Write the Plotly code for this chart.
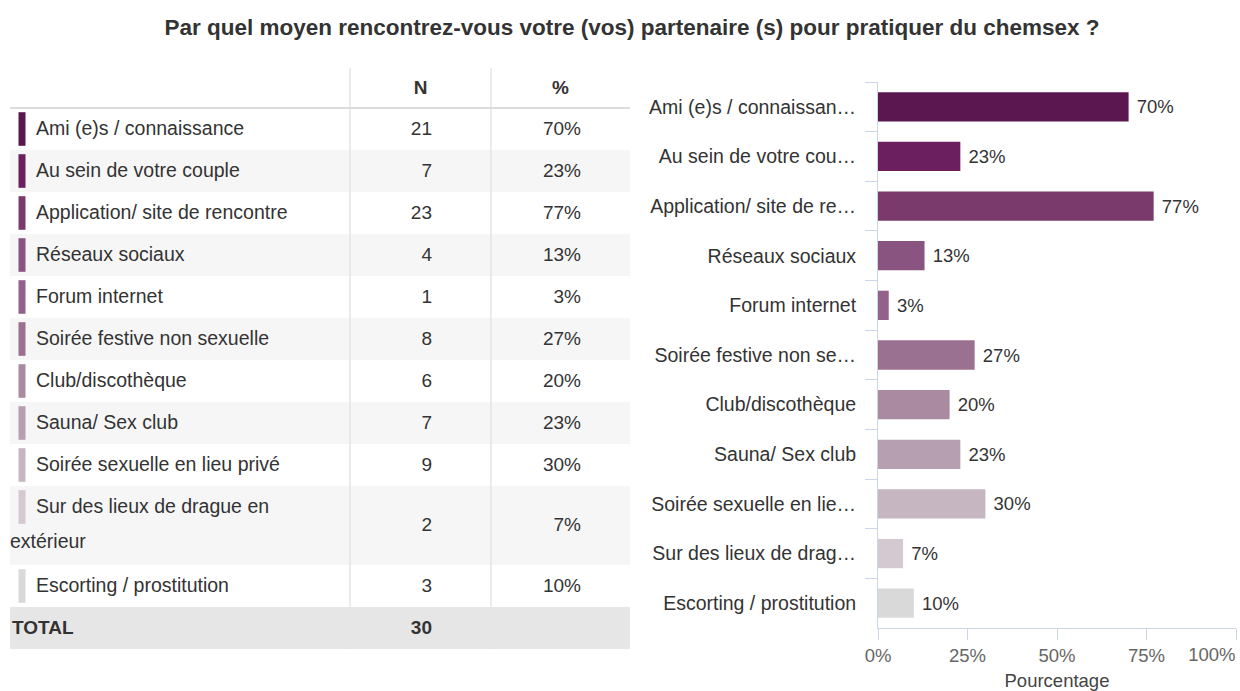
import plotly.graph_objects as go

W, H = 1240, 691
FONT = "Liberation Sans, Arial, sans-serif"

# Data
title = "Par quel moyen rencontrez-vous votre (vos) partenaire (s) pour pratiquer du chemsex ?"

categories = [
    "Ami (e)s / connaissance",
    "Au sein de votre couple",
    "Application/ site de rencontre",
    "Réseaux sociaux",
    "Forum internet",
    "Soirée festive non sexuelle",
    "Club/discothèque",
    "Sauna/ Sex club",
    "Soirée sexuelle en lieu privé",
    "Sur des lieux de drague en extérieur",
    "Escorting / prostitution",
]
# labels as truncated on the bar chart axis
short_labels = [
    "Ami (e)s / connaissan…",
    "Au sein de votre cou…",
    "Application/ site de re…",
    "Réseaux sociaux",
    "Forum internet",
    "Soirée festive non se…",
    "Club/discothèque",
    "Sauna/ Sex club",
    "Soirée sexuelle en lie…",
    "Sur des lieux de drag…",
    "Escorting / prostitution",
]
counts = [21, 7, 23, 4, 1, 8, 6, 7, 9, 2, 3]
percents = [70, 23, 77, 13, 3, 27, 20, 23, 30, 7, 10]
total = 30
header = ["", "N", "%"]
x_ticks = [0, 25, 50, 75, 100]

colors = [
    "#5b1850", "#6c1f5e", "#7a3b6c", "#895480", "#93628a", "#9a7191",
    "#a98aa1", "#b59fb0", "#c6b6c2", "#d4c8d1", "#d9d9d9",
]

# how long labels wrap inside the table
wrapped = {"Sur des lieux de drague en extérieur": ["Sur des lieux de drague en", "extérieur"]}


def px_x(v):
    return v / W


def px_y(v):
    return 1 - v / H


fig = go.Figure()

# ---------------- table (left) on its own axes, units = pixels ----------------
TW = 620                      # table width
HEAD_H, ROW_H, EXTRA_LINE = 40, 42, 37
COL1, COL2 = 340, 481         # column separators
N_RIGHT, P_RIGHT = 422, 571   # right edge of numbers
TXT_DY = 1                    # small nudge so text sits in the middle of the row

lines = [wrapped.get(c, [c]) for c in categories]
heights = [HEAD_H] + [ROW_H + EXTRA_LINE * (len(l) - 1) for l in lines] + [ROW_H]
tops = [sum(heights[:i]) for i in range(len(heights))]
TH = sum(heights)
centers = [t + h / 2 for t, h in zip(tops, heights)]
fills = ["white"] + ["white" if i % 2 == 0 else "#f6f6f6" for i in range(len(categories))] + ["#e6e6e6"]

fig.add_trace(go.Bar(
    x=[TW] * len(heights), y=centers, width=heights, base=0, orientation="h",
    marker=dict(color=fills, line_width=0), xaxis="x2", yaxis="y2",
    hoverinfo="skip", showlegend=False,
))

# separators
fig.add_trace(go.Scatter(
    x=[COL1, COL1, None, COL2, COL2], y=[0, TH, None, 0, TH],
    mode="lines", line=dict(color="#e4e4e4", width=1.5),
    xaxis="x2", yaxis="y2", hoverinfo="skip", showlegend=False,
))
fig.add_trace(go.Scatter(
    x=[0, TW], y=[HEAD_H, HEAD_H], mode="lines", line=dict(color="#dcdcdc", width=2),
    xaxis="x2", yaxis="y2", hoverinfo="skip", showlegend=False,
))

row_tops = tops[1:-1]
first_line_y = [t + ROW_H / 2 for t in row_tops]

# colour swatches
fig.add_trace(go.Scatter(
    x=[12] * len(categories), y=first_line_y, mode="markers",
    marker=dict(symbol="line-ns", size=24, line=dict(width=7, color=colors)),
    xaxis="x2", yaxis="y2", hoverinfo="skip", showlegend=False,
))

# labels
lab_x, lab_y, lab_t = [], [], []
for t, l in zip(row_tops, lines):
    for k, s in enumerate(l):
        lab_x.append(26 if k == 0 else 0)
        lab_y.append(t + ROW_H / 2 + TXT_DY + (EXTRA_LINE - 2) * k)
        lab_t.append(s)
fig.add_trace(go.Scatter(
    x=lab_x, y=lab_y, text=lab_t, mode="text", textposition="middle right",
    textfont=dict(family=FONT, size=19.5, color="#333333"),
    xaxis="x2", yaxis="y2", hoverinfo="skip", showlegend=False, cliponaxis=False,
))

row_mid = [c + TXT_DY for c in centers[1:-1]]
fig.add_trace(go.Scatter(
    x=[N_RIGHT] * len(counts), y=row_mid, text=[str(c) for c in counts],
    mode="text", textposition="middle left",
    textfont=dict(family=FONT, size=19, color="#333333"),
    xaxis="x2", yaxis="y2", hoverinfo="skip", showlegend=False, cliponaxis=False,
))
fig.add_trace(go.Scatter(
    x=[P_RIGHT] * len(percents), y=row_mid, text=[f"{p}%" for p in percents],
    mode="text", textposition="middle left",
    textfont=dict(family=FONT, size=19, color="#333333"),
    xaxis="x2", yaxis="y2", hoverinfo="skip", showlegend=False, cliponaxis=False,
))

# header and total row (bold)
fig.add_trace(go.Scatter(
    x=[(COL1 + COL2) / 2, (COL2 + TW) / 2], y=[centers[0] + TXT_DY] * 2, text=header[1:],
    mode="text", textposition="middle center",
    textfont=dict(family=FONT, size=19, color="#333333", weight="bold"),
    xaxis="x2", yaxis="y2", hoverinfo="skip", showlegend=False, cliponaxis=False,
))
fig.add_trace(go.Scatter(
    x=[2, N_RIGHT], y=[centers[-1] + TXT_DY] * 2, text=["TOTAL", str(total)],
    mode="text", textposition=["middle right", "middle left"],
    textfont=dict(family=FONT, size=19, color="#333333", weight="bold"),
    xaxis="x2", yaxis="y2", hoverinfo="skip", showlegend=False, cliponaxis=False,
))

# ---------------- bar chart (right) ----------------
fig.add_trace(go.Bar(
    x=percents, y=short_labels, orientation="h",
    marker=dict(color=colors, line_width=0),
    text=["\u00a0" + f"{p}%" for p in percents], textposition="outside",
    textfont=dict(family=FONT, size=18.5, color="#333333"),
    cliponaxis=False, showlegend=False,
))
# invisible point so the overlay axis holding the last tick label gets drawn
fig.add_trace(go.Scatter(
    x=[x_ticks[-1]], y=[short_labels[-1]], mode="markers", marker=dict(opacity=0),
    xaxis="x3", yaxis="y", hoverinfo="skip", showlegend=False,
))

tick_text = [f"{v}%" for v in x_ticks]
BAR_DOMAIN = [px_x(878), px_x(1236)]
tick_style = dict(ticks="outside", ticklen=11, tickcolor="#ccd6eb",
                  tickfont=dict(size=18.5, color="#666666"))

fig.update_layout(
    width=W, height=H,
    margin=dict(l=0, r=0, t=0, b=0, autoexpand=False),
    paper_bgcolor="white", plot_bgcolor="white",
    font=dict(family=FONT, color="#333333"),
    bargap=0.41,
    title=dict(
        text=title, x=632 / W, xanchor="center", y=px_y(27), yanchor="middle",
        font=dict(family=FONT, size=22.5, color="#333333", weight="bold"),
    ),
    xaxis=dict(
        domain=BAR_DOMAIN, range=[0, 100],
        tickvals=x_ticks, ticktext=tick_text[:-1] + [""],
        showline=True, linecolor="#ccd6eb", linewidth=1,
        showgrid=False, zeroline=False, automargin=False,
        title=dict(text="Pourcentage", font=dict(size=18.5, color="#444444"), standoff=11),
        fixedrange=True, **tick_style,
    ),
    # last tick label sits left of its tick so it stays inside the page
    xaxis3=dict(
        domain=BAR_DOMAIN, range=[0, 100], overlaying="x", anchor="y", side="bottom",
        tickvals=x_ticks[-1:], ticktext=tick_text[-1:], ticklabelposition="outside left",
        ticklabelstandoff=10,
        showline=False, showgrid=False, zeroline=False, automargin=False,
        fixedrange=True, **tick_style,
    ),
    yaxis=dict(
        domain=[px_y(628), px_y(82)], type="category",
        categoryorder="array", categoryarray=short_labels,
        range=[len(short_labels) - 0.5, -0.5],
        tickson="boundaries", ticks="outside", ticklen=12, tickcolor="#ccd6eb",
        showline=True, linecolor="#ccd6eb", linewidth=1,
        showgrid=False, zeroline=False, automargin=False,
        tickfont=dict(size=19.5, color="#333333"),
        ticklabelstandoff=17, fixedrange=True,
    ),
    xaxis2=dict(domain=[px_x(10), px_x(10 + TW)], range=[0, TW], visible=False,
                anchor="y2", fixedrange=True, automargin=False),
    yaxis2=dict(domain=[px_y(68 + TH), px_y(68)], range=[TH, 0], visible=False,
                anchor="x2", fixedrange=True, automargin=False),
)

fig.write_html("out.html", config={"displayModeBar": False},
               post_script="document.body.style.margin='0';")
